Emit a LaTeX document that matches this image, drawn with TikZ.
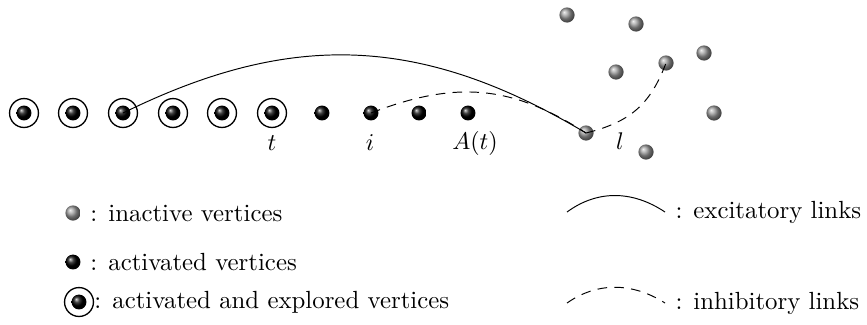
\documentclass[tikz,border=0pt]{standalone}
\usetikzlibrary{shapes.geometric}
\begin{document}
\begin{tikzpicture}[x=0.415pt,y=-0.415pt,
  every node/.style={font=\fontsize{10.3}{12.4}\selectfont},
  actv/.style={circle,inner sep=0pt,minimum size=6.2pt,ball color=black,draw=none},
  inact/.style={circle,inner sep=0pt,minimum size=6.3pt,ball color=gray!80,draw=none},
  ring/.style={circle,draw,inner sep=0pt,minimum size=12pt,line width=0.55pt},
  lab/.style={inner sep=0pt,anchor=center},
  dsh/.style={dash pattern=on 4pt off 3pt},
  txt/.style={anchor=west,inner sep=0pt}]
\useasboundingbox (0,0) rectangle (867,324);
% explored vertices
\foreach \n/\x in {1/24,2/73,3/123,4/173,5/222,6/272}{
  \node[ring] (r\n) at (\x,113) {};
  \node[actv] (e\n) at (\x,113) {};
}
% activated vertices
\node[actv] (a1) at (322,113) {};
\node[actv] (i) at (371,113) {};
\node[actv] (a3) at (419,113) {};
\node[actv] (a4) at (468,113) {};
% inactive vertices
\node[inact] (g1) at (567,15) {};
\node[inact] (g2) at (636,24) {};
\node[inact] (g3) at (704,53) {};
\node[inact] (g4) at (666,63) {};
\node[inact] (g5) at (616,72) {};
\node[inact] (g6) at (714,113) {};
\node[inact] (l) at (586,133) {};
\node[inact] (g8) at (646,152) {};
% labels
\node[lab] (lt) at (272,143) {$t$};
\node[lab] (li) at (370,143) {$i$};
\node[lab] (lA) at (475,143) {$A(t)$};
\node[lab] (ll) at (620,141) {$l$};
% links
\draw (e3.center) .. controls (290,31) and (420,34) .. (l.center);
\draw[dsh] (i.center) .. controls (461,78) and (516,88) .. (l.center);
\draw[dsh] (l.center) .. controls (630,122) and (650,105) .. (g4.center);
% legend
\node[inact] (k1) at (73,213) {};
\node[txt] (t1) at (90,213) {: inactive vertices};
\node[actv] (k2) at (73,262) {};
\node[txt] (t2) at (90,262) {: activated vertices};
\node[ring] (k3r) at (79,302) {};
\node[actv] (k3) at (79,302) {};
\node[txt] (t3) at (94,302) {: activated and explored vertices};
\coordinate (x1) at (567,212);
\coordinate (x2) at (665,212);
\draw (x1) .. controls (597,190) and (632,190) .. (x2);
\node[txt] (t4) at (675,212) {: excitatory links};
\coordinate (y1) at (567,303);
\coordinate (y2) at (665,303);
\draw[dsh] (y1) .. controls (597,282) and (632,282) .. (y2);
\node[txt] (t5) at (675,303) {: inhibitory links};
\end{tikzpicture}
\end{document}
